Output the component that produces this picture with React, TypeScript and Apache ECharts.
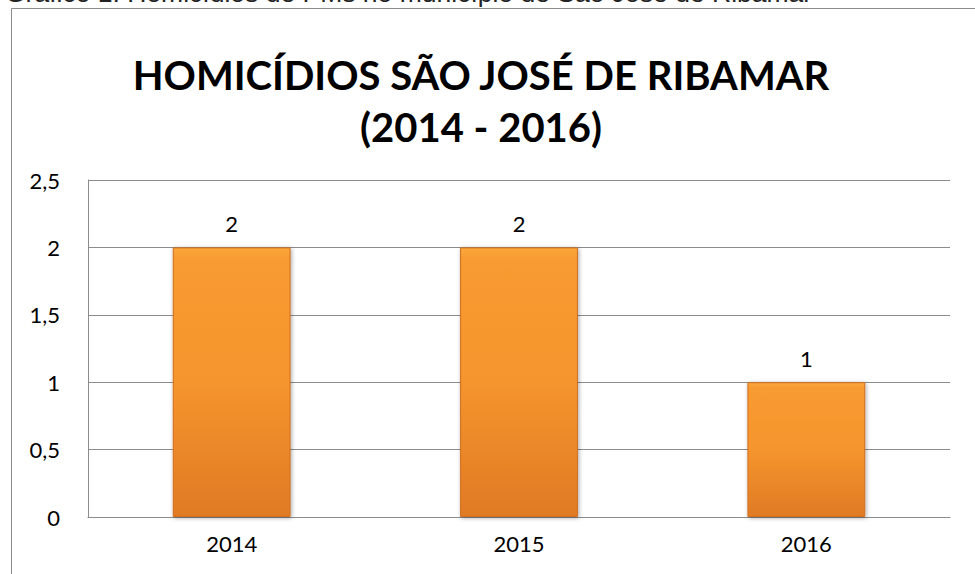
import React, { useEffect, useRef } from "react";
import * as echarts from "echarts";

const categories = ["2014", "2015", "2016"];
const homicides = [2, 2, 1];
const yTicks = [0, 0.5, 1, 1.5, 2, 2.5];
const titleLines = ["HOMICÍDIOS SÃO JOSÉ DE RIBAMAR", "(2014 - 2016)"];
const caption = "Gráfico 1: Homicídios de PMs no município de São José de Ribamar";

const labelFont = "Lato, 'Open Sans', sans-serif";

export default function App() {
  const ref = useRef<HTMLDivElement>(null);
  useEffect(() => {
    const chart = echarts.init(ref.current!, null, { renderer: "svg" });
    const barColor = new echarts.graphic.LinearGradient(0, 0, 0, 1, [
      { offset: 0, color: "#FBA83C" },
      { offset: 0.04, color: "#F89B30" },
      { offset: 0.5, color: "#F5952E" },
      { offset: 1, color: "#E07A24" },
    ]);
    chart.setOption({
      animation: false,
      backgroundColor: "#ffffff",
      graphic: [
        {
          type: "rect",
          shape: { x: 11.5, y: 8.5, width: 1000, height: 600 },
          style: { fill: "none", stroke: "#8c8c8c", lineWidth: 1 },
          silent: true,
        },
        {
          type: "text",
          x: 5,
          y: 6,
          style: {
            text: caption,
            font: "26.5px 'Liberation Sans', Arial, sans-serif",
            fill: "#222",
            verticalAlign: "bottom",
          },
        },
        {
          type: "text",
          x: 481,
          y: 75,
          style: {
            text: titleLines[0],
            font: "bold 40px Lato, 'Open Sans', sans-serif",
            fill: "#000",
            align: "center",
            verticalAlign: "middle",
          },
        },
        {
          type: "text",
          x: 481,
          y: 127,
          style: {
            text: titleLines[1],
            font: "bold 40px Lato, 'Open Sans', sans-serif",
            fill: "#000",
            align: "center",
            verticalAlign: "middle",
          },
        },
      ],
      grid: { left: 88, right: 25, top: 180, bottom: 57, containLabel: false },
      xAxis: {
        type: "category",
        data: categories,
        axisLine: { show: true, lineStyle: { color: "#8c8c8c", width: 1 } },
        axisTick: { show: false },
        axisLabel: {
          color: "#000",
          fontSize: 22,
          fontFamily: labelFont,
          margin: 15,
        },
      },
      yAxis: {
        type: "value",
        min: yTicks[0],
        max: yTicks[yTicks.length - 1],
        interval: 0.5,
        axisLine: { show: true, lineStyle: { color: "#8c8c8c", width: 1 } },
        axisTick: { show: false },
        splitLine: { show: true, lineStyle: { color: "#8c8c8c", width: 1 } },
        axisLabel: {
          color: "#000",
          fontSize: 22,
          fontFamily: labelFont,
          margin: 28,
          formatter: (v: number) => String(v).replace(".", ","),
        },
      },
      series: [
        {
          type: "bar",
          data: homicides,
          barWidth: "41%",
          itemStyle: {
            color: barColor,
            borderColor: "#D06E1E",
            borderWidth: 1,
            shadowColor: "rgba(0,0,0,0.35)",
            shadowBlur: 4,
            shadowOffsetX: 1,
            shadowOffsetY: 1,
          },
          label: {
            show: true,
            position: "top",
            distance: 13,
            color: "#000",
            fontSize: 22,
            fontFamily: labelFont,
          },
        },
      ],
    });
    return () => chart.dispose();
  }, []);
  return <div ref={ref} style={{ width: 975, height: 574, position: "absolute", left: 0, top: 0 }} />;
}
